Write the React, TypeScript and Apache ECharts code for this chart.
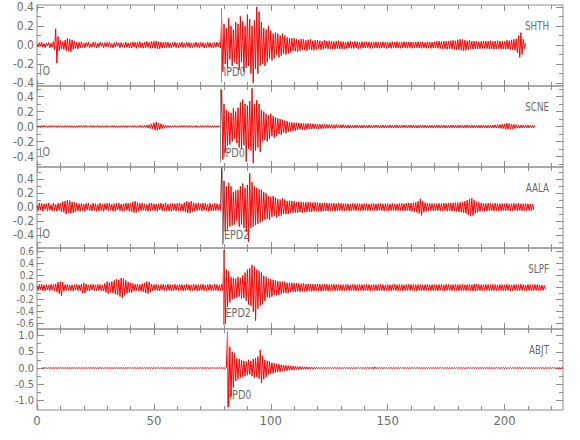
import React, { useEffect, useRef } from "react";
import * as echarts from "echarts";

const FONT = '"Liberation Sans Narrow", "DejaVu Sans Condensed", "Arial Narrow", "Liberation Sans", sans-serif';
const AXIS_COLOR = "#8c8c8c";
const TEXT_COLOR = "#6b6b6b";
const TRACE_COLOR = "#ff0000";

const STATIONS = ["SHTH", "SCNE", "AALA", "SLPF", "ABJT"];
const X_MIN = 0;
const X_MAX = 225;
const X_MAJOR = [0, 50, 100, 150, 200];
const X_MINOR = [10, 20, 30, 40, 60, 70, 80, 90, 110, 120, 130, 140, 160, 170, 180, 190, 210, 220];

const Y_MIN = [-0.43, -0.54, -0.59, -0.69, -1.29];
const Y_MAX = [0.42, 0.54, 0.58, 0.66, 1.2];
const Y_MAJOR = [
  [-0.4, -0.2, 0, 0.2, 0.4],
  [-0.4, -0.2, 0, 0.2, 0.4],
  [-0.4, -0.2, 0, 0.2, 0.4],
  [-0.6, -0.4, -0.2, 0, 0.2, 0.4, 0.6],
  [-1, -0.5, 0, 0.5, 1],
];
const Y_MINOR = [
  [-0.3, -0.1, 0.1, 0.3],
  [-0.5, -0.3, -0.1, 0.1, 0.3, 0.5],
  [-0.5, -0.3, -0.1, 0.1, 0.3, 0.5],
  [-0.5, -0.3, -0.1, 0.1, 0.3, 0.5],
  [-0.75, -0.25, 0.25, 0.75],
];
const Y_LABEL_SIZE = [12, 12, 12, 10, 11];

// phase picks
const PHASE_NAMES = ["IPD0", "IPD0", "EPD2", "EPD2", "IPD0"];
const PHASE_TIMES = [78.9, 78.6, 79.1, 79.8, 81.4];
const PHASE_TOP = [0.39, 0.5, 0.54, 0.62, 1.12];
const PHASE_BOTTOM = [-0.39, -0.48, -0.55, -0.62, -1.22];
const PHASE_LABEL_Y = [-0.28, -0.35, -0.39, -0.41, -0.83];
// origin marks (first three traces)
const ORIGIN_NAME = "O";
const ORIGIN_TIME = 1.5;
const ORIGIN_TOP = [-0.21, -0.28, -0.29];
const ORIGIN_BOTTOM = [-0.32, -0.4, -0.45];
const ORIGIN_LABEL_Y = [-0.27, -0.34, -0.38];

// samples every 0.5 s from each trace's start time (one row = 10 s)
const SAMPLE_STEP = 0.5;
const TRACE_START = [0, 0, 0, 0, 2];

const SHTH = [
 .01,-.02,.025,-.012,.03,-.022,.015,-.028,.02,-.01,.027,-.03,.018,-.025,.035,-.05,.17,-.19,.09,-.06,
 .05,-.04,.035,-.045,.05,-.06,.07,-.065,.06,-.07,.055,-.045,.04,-.035,.03,-.04,.028,-.03,.035,-.025,
 .02,-.03,.025,-.015,.03,-.028,.012,-.022,.03,-.02,.026,-.032,.018,-.024,.03,-.01,.022,-.028,.025,-.02,
 .028,-.018,.03,-.025,.015,-.03,.024,-.02,.03,-.012,.022,-.03,.027,-.022,.018,-.026,.03,-.024,.02,-.03,
 .025,-.03,.032,-.02,.028,-.035,.03,-.025,.035,-.03,.022,-.033,.03,-.028,.036,-.025,.03,-.035,.038,-.03,
 .04,-.035,.042,-.038,.035,-.04,.03,-.032,.028,-.03,.032,-.025,.03,-.028,.022,-.03,.027,-.02,.03,-.026,
 .022,-.03,.025,-.02,.03,-.027,.018,-.025,.03,-.022,.026,-.03,.02,-.028,.024,-.018,.03,-.025,.022,-.03,
 .027,-.02,.025,-.03,.018,-.026,.03,-.022,.025,-.028,.02,-.03,.026,-.024,.03,-.02,.025,-.03,.26,-.28,
 .22,-.2,.18,-.24,.28,-.15,.2,-.22,.16,-.18,.24,-.2,.22,-.26,.3,-.18,.25,-.28,.2,-.24,
 .32,-.22,.27,-.3,.2,-.4,.26,-.25,.4,-.3,.35,-.22,.24,-.2,.18,-.22,.16,-.18,.2,-.14,
 .15,-.16,.12,-.14,.13,-.1,.12,-.13,.1,-.11,.12,-.09,.1,-.1,.08,-.09,.07,-.08,.07,-.06,
 .07,-.065,.06,-.07,.055,-.06,.065,-.05,.06,-.055,.05,-.06,.055,-.045,.06,-.05,.045,-.055,.05,-.045,
 .05,-.04,.045,-.05,.038,-.045,.05,-.035,.042,-.04,.045,-.038,.04,-.045,.035,-.042,.04,-.036,.045,-.04,
 .038,-.042,.035,-.04,.03,-.038,.036,-.032,.04,-.035,.03,-.036,.038,-.03,.034,-.04,.032,-.035,.036,-.03,
 .032,-.03,.035,-.028,.033,-.036,.028,-.034,.03,-.026,.034,-.032,.03,-.035,.028,-.03,.034,-.028,.032,-.035,
 .03,-.032,.028,-.035,.034,-.028,.03,-.033,.036,-.03,.028,-.034,.032,-.03,.035,-.028,.03,-.034,.033,-.03,
 .032,-.035,.03,-.028,.034,-.03,.036,-.032,.03,-.035,.033,-.03,.028,-.034,.035,-.03,.032,-.036,.03,-.033,
 .034,-.03,.038,-.035,.04,-.036,.035,-.04,.042,-.038,.04,-.045,.042,-.04,.045,-.042,.05,-.048,.045,-.05,
 .055,-.05,.06,-.055,.058,-.06,.05,-.055,.045,-.05,.048,-.042,.04,-.045,.042,-.038,.04,-.042,.036,-.04,
 .038,-.035,.04,-.036,.042,-.038,.04,-.042,.045,-.04,.038,-.044,.042,-.04,.045,-.038,.042,-.045,.04,-.042,
 .04,-.045,.05,-.042,.045,-.05,.055,-.05,.06,-.055,.065,-.08,.1,-.13,.13,-.1,.06,-.04,.02,
];

const SCNE = [
 .01,-.012,.008,-.014,.012,-.01,.015,-.009,.011,-.013,.01,-.012,.014,-.008,.012,-.011,.009,-.013,.012,-.01,
 .011,-.013,.01,-.012,.014,-.009,.012,-.011,.013,-.01,.009,-.012,.011,-.014,.01,-.012,.013,-.009,.012,-.011,
 .012,-.01,.014,-.012,.009,-.011,.013,-.01,.012,-.014,.011,-.009,.012,-.013,.01,-.012,.014,-.011,.009,-.012,
 .013,-.011,.01,-.012,.012,-.009,.014,-.012,.011,-.013,.01,-.011,.012,-.01,.013,-.012,.011,-.014,.012,-.01,
 .011,-.012,.013,-.01,.012,-.014,.01,-.011,.014,-.012,.011,-.013,.015,-.014,.018,-.02,.025,-.028,.035,-.03,
 .05,-.045,.06,-.05,.045,-.04,.035,-.03,.025,-.022,.018,-.015,.013,-.012,.011,-.013,.012,-.01,.013,-.011,
 .01,-.012,.013,-.011,.012,-.01,.014,-.012,.011,-.013,.012,-.009,.011,-.012,.013,-.01,.012,-.014,.01,-.012,
 .012,-.011,.013,-.01,.011,-.012,.014,-.01,.012,-.013,.011,-.012,.013,-.011,.01,-.012,.012,-.01,.49,-.44,
 .3,-.35,.22,-.26,.2,-.24,.18,-.2,.24,-.16,.2,-.22,.25,-.28,.32,-.3,.36,-.25,.3,-.47,
 .28,-.3,.34,-.32,.51,-.49,.3,-.32,.35,-.28,.3,-.34,.22,-.2,.2,-.18,.17,-.2,.15,-.16,
 .17,-.13,.14,-.15,.12,-.13,.11,-.1,.1,-.11,.09,-.08,.08,-.09,.07,-.07,.06,-.065,.055,-.06,
 .05,-.055,.05,-.045,.048,-.04,.045,-.042,.04,-.045,.038,-.04,.042,-.036,.038,-.035,.036,-.032,.034,-.03,
 .03,-.033,.028,-.03,.03,-.026,.028,-.025,.027,-.024,.025,-.022,.026,-.024,.022,-.025,.023,-.02,.024,-.022,
 .022,-.02,.024,-.021,.02,-.022,.019,-.023,.021,-.02,.018,-.022,.02,-.019,.021,-.018,.02,-.021,.018,-.02,
 .019,-.02,.017,-.019,.02,-.018,.016,-.02,.019,-.017,.02,-.016,.018,-.02,.017,-.019,.02,-.018,.016,-.019,
 .018,-.017,.02,-.019,.016,-.018,.02,-.017,.019,-.02,.017,-.016,.019,-.018,.02,-.017,.018,-.02,.016,-.018,
 .02,-.018,.017,-.019,.018,-.02,.016,-.018,.02,-.017,.019,-.016,.018,-.02,.017,-.019,.02,-.018,.016,-.02,
 .018,-.016,.02,-.019,.017,-.018,.02,-.016,.019,-.02,.017,-.018,.016,-.019,.02,-.017,.018,-.02,.019,-.016,
 .017,-.02,.018,-.016,.02,-.019,.017,-.018,.02,-.016,.018,-.02,.019,-.017,.016,-.018,.02,-.019,.017,-.02,
 .018,-.017,.02,-.018,.016,-.02,.019,-.017,.018,-.02,.02,-.018,.022,-.02,.024,-.022,.026,-.025,.03,-.028,
 .035,-.04,.045,-.038,.04,-.035,.03,-.032,.028,-.025,.024,-.022,.02,-.022,.018,-.02,.019,-.017,.02,-.018,
 .017,-.019,.018,-.016,.017,-.018,.015,
];

const AALA = [
 .03,-.05,.06,-.04,.055,-.06,.045,-.03,.05,-.058,.06,-.045,.035,-.055,.06,-.05,.04,-.06,.055,-.045,
 .06,-.07,.08,-.075,.09,-.1,.1,-.085,.095,-.09,.075,-.08,.07,-.065,.06,-.055,.05,-.06,.055,-.05,
 .045,-.06,.055,-.04,.06,-.05,.035,-.055,.06,-.045,.05,-.06,.04,-.055,.058,-.05,.045,-.06,.05,-.04,
 .055,-.05,.06,-.045,.04,-.058,.05,-.06,.055,-.04,.06,-.05,.045,-.06,.05,-.055,.06,-.045,.055,-.06,
 .06,-.065,.075,-.08,.085,-.075,.07,-.06,.055,-.05,.06,-.045,.05,-.055,.04,-.06,.055,-.05,.06,-.045,
 .05,-.055,.045,-.06,.05,-.04,.058,-.05,.045,-.055,.06,-.05,.04,-.055,.05,-.06,.055,-.045,.05,-.055,
 .055,-.05,.06,-.055,.045,-.06,.065,-.07,.08,-.085,.075,-.08,.085,-.07,.065,-.06,.055,-.05,.06,-.045,
 .05,-.055,.06,-.045,.055,-.05,.04,-.06,.055,-.05,.045,-.055,.06,-.05,.05,-.045,.04,-.05,.57,-.53,
 .38,-.35,.3,-.32,.35,-.28,.3,-.26,.22,-.25,.24,-.2,.25,-.28,.3,-.25,.34,-.3,.28,-.35,
 .32,-.5,.49,-.3,.36,-.28,.3,-.26,.28,-.24,.26,-.22,.25,-.2,.22,-.18,.2,-.17,.16,-.18,
 .15,-.14,.16,-.13,.14,-.15,.12,-.13,.11,-.12,.13,-.1,.11,-.1,.09,-.1,.09,-.085,.09,-.08,
 .085,-.08,.075,-.085,.08,-.07,.075,-.08,.07,-.075,.072,-.068,.07,-.065,.068,-.07,.065,-.06,.07,-.062,
 .065,-.06,.062,-.065,.058,-.06,.062,-.055,.06,-.058,.055,-.06,.058,-.052,.056,-.06,.05,-.055,.058,-.05,
 .055,-.05,.05,-.055,.052,-.048,.05,-.055,.045,-.052,.055,-.048,.05,-.05,.052,-.045,.05,-.052,.048,-.05,
 .05,-.048,.052,-.05,.045,-.052,.05,-.048,.055,-.05,.048,-.052,.05,-.045,.052,-.05,.048,-.055,.05,-.048,
 .05,-.052,.048,-.05,.055,-.048,.05,-.052,.045,-.05,.052,-.048,.055,-.05,.05,-.055,.058,-.052,.06,-.055,
 .058,-.06,.062,-.065,.07,-.075,.085,-.09,.12,-.12,.09,-.075,.065,-.06,.055,-.052,.055,-.05,.052,-.05,
 .05,-.055,.052,-.05,.055,-.052,.05,-.055,.058,-.05,.055,-.058,.06,-.055,.058,-.06,.062,-.058,.065,-.062,
 .065,-.07,.068,-.072,.075,-.08,.085,-.09,.1,-.11,.12,-.13,.13,-.12,.1,-.09,.08,-.075,.07,-.065,
 .06,-.058,.055,-.06,.052,-.055,.058,-.05,.055,-.052,.05,-.055,.058,-.05,.055,-.052,.05,-.055,.052,-.05,
 .05,-.052,.055,-.05,.048,-.055,.05,-.052,.055,-.048,.05,-.055,.052,-.05,.048,-.052,.05,-.055,.052,-.048,
 .05,-.048,.045,-.05,.045,-.04,
];

const SLPF = [
 .03,-.045,.05,-.04,.055,-.05,.045,-.055,.05,-.04,.045,-.05,.055,-.045,.05,-.055,.06,-.07,.09,-.1,
 .1,-.14,.09,-.06,.05,-.045,.055,-.05,.04,-.05,.045,-.055,.05,-.04,.055,-.05,.045,-.05,.06,-.09,
 .08,-.09,.06,-.05,.045,-.055,.05,-.04,.055,-.05,.045,-.05,.055,-.045,.05,-.055,.045,-.06,.07,-.08,
 .1,-.1,.09,-.08,.1,-.09,.12,-.11,.14,-.12,.13,-.15,.16,-.17,.15,-.13,.12,-.1,.09,-.08,
 .08,-.085,.07,-.06,.055,-.05,.06,-.055,.05,-.06,.065,-.07,.08,-.09,.1,-.1,.09,-.075,.06,-.055,
 .05,-.045,.055,-.05,.045,-.055,.05,-.04,.055,-.05,.045,-.05,.055,-.045,.05,-.055,.045,-.05,.055,-.045,
 .045,-.05,.055,-.045,.05,-.055,.045,-.05,.055,-.04,.05,-.055,.045,-.05,.055,-.045,.05,-.055,.045,-.05,
 .05,-.045,.055,-.05,.045,-.055,.05,-.045,.055,-.05,.045,-.05,.055,-.045,.05,-.055,.045,-.05,.06,-.05,
 .62,-.61,.3,-.32,.28,-.25,.18,-.2,.16,-.18,.15,-.17,.18,-.15,.16,-.18,.2,-.17,.25,-.22,
 .3,-.28,.32,-.3,.38,-.4,.35,-.55,.3,-.35,.28,-.3,.25,-.28,.2,-.22,.18,-.16,.15,-.17,
 .14,-.15,.13,-.12,.12,-.13,.11,-.12,.1,-.11,.1,-.09,.1,-.09,.08,-.09,.08,-.075,.08,-.07,
 .075,-.07,.075,-.065,.07,-.07,.065,-.06,.07,-.065,.06,-.065,.062,-.058,.06,-.062,.055,-.06,.058,-.055,
 .06,-.055,.058,-.06,.052,-.055,.058,-.05,.055,-.058,.05,-.055,.052,-.05,.055,-.052,.05,-.055,.052,-.05,
 .05,-.052,.048,-.05,.055,-.048,.05,-.052,.045,-.05,.052,-.048,.05,-.055,.048,-.05,.052,-.045,.05,-.052,
 .048,-.05,.052,-.048,.05,-.055,.045,-.05,.052,-.048,.05,-.052,.048,-.05,.055,-.048,.05,-.052,.045,-.05,
 .052,-.05,.048,-.052,.05,-.045,.055,-.05,.048,-.052,.05,-.048,.052,-.05,.045,-.052,.05,-.048,.055,-.05,
 .05,-.048,.052,-.05,.048,-.055,.05,-.045,.052,-.05,.048,-.052,.05,-.048,.055,-.05,.045,-.052,.05,-.048,
 .052,-.05,.048,-.052,.05,-.045,.052,-.05,.048,-.055,.05,-.048,.052,-.05,.045,-.052,.05,-.048,.052,-.05,
 .048,-.052,.05,-.048,.055,-.05,.045,-.052,.05,-.048,.052,-.05,.048,-.055,.06,-.058,.055,-.05,.052,-.048,
 .05,-.052,.048,-.05,.052,-.045,.05,-.052,.048,-.05,.055,-.048,.05,-.052,.045,-.05,.052,-.048,.05,-.052,
 .048,-.05,.052,-.048,.05,-.055,.045,-.05,.052,-.048,.05,-.052,.048,-.05,.055,-.048,.05,-.052,.045,-.05,
 .052,-.048,.05,-.052,.048,-.05,.052,-.045,.05,-.048,.045,-.05,.042,-.045,.035,-.03,
];

const ABJT = [
 .008,-.01,.012,-.009,.011,-.012,.01,-.008,.012,-.011,.009,-.012,.01,-.011,.013,-.009,.011,-.01,.012,-.013,
 .01,-.009,.011,-.012,.01,-.011,.009,-.01,.012,-.011,.01,-.012,.011,-.009,.01,-.012,.011,-.01,.013,-.011,
 .01,-.012,.011,-.01,.012,-.011,.009,-.012,.01,-.011,.012,-.009,.011,-.012,.01,-.011,.012,-.01,.011,-.012,
 .011,-.01,.012,-.011,.009,-.012,.01,-.011,.013,-.01,.011,-.012,.01,-.009,.012,-.011,.01,-.012,.011,-.01,
 .012,-.011,.01,-.012,.011,-.01,.012,-.011,.01,-.012,.011,-.01,.012,-.011,.016,-.02,.022,-.018,.013,-.011,
 .01,-.012,.011,-.009,.012,-.011,.01,-.012,.011,-.01,.012,-.011,.009,-.012,.01,-.011,.012,-.01,.011,-.012,
 .011,-.01,.012,-.011,.01,-.012,.009,-.011,.012,-.01,.011,-.012,.01,-.011,.012,-.009,.011,-.012,.01,-.011,
 .012,-.01,.011,-.012,.01,-.011,.012,-.009,.011,-.012,.01,-.011,.012,-.01,.011,-.012,.01,-.015,.012,1.12,
 -1.19,.65,-.88,.5,-.6,.45,-.4,.3,-.35,.28,-.3,.25,-.28,.22,-.25,.2,-.22,.25,-.2,.22,
 -.25,.28,-.3,.3,-.28,.35,-.32,.56,-.46,.38,-.35,.25,-.28,.22,-.2,.2,-.18,.16,-.17,.15,
 -.14,.13,-.12,.12,-.11,.1,-.1,.09,-.09,.08,-.08,.075,-.07,.07,-.065,.06,-.06,.055,-.05,.048,
 -.045,.042,-.045,.04,-.038,.036,-.035,.032,-.03,.03,-.028,.026,-.027,.024,-.025,.022,-.023,.02,-.021,.019,
 -.02,.018,-.017,.018,-.016,.017,-.018,.016,-.017,.015,-.016,.017,-.015,.016,-.017,.015,-.016,.014,-.016,.015,
 -.014,.016,-.015,.014,-.016,.015,-.014,.016,-.015,.014,-.016,.015,-.014,.016,-.015,.014,-.016,.015,-.014,.016,
 -.015,.017,-.02,.03,-.04,.035,-.02,.016,-.015,.014,-.016,.015,-.014,.016,-.015,.014,-.016,.015,-.014,.016,
 -.015,.014,-.016,.015,-.014,.016,-.015,.014,-.016,.015,-.014,.016,-.015,.014,-.016,.015,-.014,.016,-.015,.014,
 -.016,.015,-.014,.016,-.015,.014,-.016,.015,-.014,.016,-.015,.014,-.016,.015,-.014,.016,-.015,.014,-.016,.015,
 -.014,.016,-.015,.014,-.016,.015,-.014,.016,-.015,.014,-.016,.015,-.014,.016,-.015,.014,-.016,.015,-.014,.016,
 -.015,.014,-.016,.015,-.014,.016,-.015,.014,-.016,.015,-.014,.016,-.015,.014,-.016,.015,-.014,.016,-.015,.014,
 -.016,.015,-.014,.016,-.015,.014,-.016,.015,-.014,.016,-.015,.014,-.016,.017,-.018,.02,-.019,.018,-.02,.017,
 -.016,.018,-.017,.016,-.015,.017,-.016,.015,-.014,.016,-.015,.014,-.016,.015,-.014,.016,-.015,.014,-.016,.015,
 -.014,.016,-.015,.014,-.016,.015,-.014,.016,-.015,.014,-.016,.015,-.014,.016,-.015,.014,-.016,.015,-.014,.016,
 -.015,.014,-.016,.015,-.014,.016,-.015,
];

const TRACES = [SHTH, SCNE, AALA, SLPF, ABJT];

const GRID_TOPS = [5, 86, 167, 248, 329];
const GRID_HEIGHT = 81;
const GRID_LEFT = 37;
const GRID_WIDTH = 526;

function buildTrace(t0: number, values: number[]) {
  return values.map((v, i) => [t0 + i * SAMPLE_STEP, v]);
}

function xAxisDef(i: number, position: string, ticks: number[], len: number, labels: boolean) {
  return {
    type: "value",
    gridIndex: i,
    min: X_MIN,
    max: X_MAX,
    position,
    axisLine: { show: false, onZero: false },
    axisTick: { show: true, inside: true, length: len, customValues: ticks, lineStyle: { color: AXIS_COLOR, width: 1 } },
    axisLabel: {
      show: labels,
      customValues: ticks,
      showMinLabel: true,
      showMaxLabel: true,
      color: TEXT_COLOR,
      fontSize: 13,
      fontFamily: FONT,
      margin: 4,
      formatter: (v: number) => String(v),
    },
    splitLine: { show: false },
  };
}

function yAxisDef(i: number, position: string, ticks: number[], len: number, labels: boolean) {
  return {
    type: "value",
    gridIndex: i,
    min: Y_MIN[i],
    max: Y_MAX[i],
    position,
    axisLine: { show: false, onZero: false },
    axisTick: { show: true, inside: true, length: len, customValues: ticks, lineStyle: { color: AXIS_COLOR, width: 1 } },
    axisLabel: {
      show: labels,
      customValues: ticks,
      showMinLabel: true,
      showMaxLabel: true,
      hideOverlap: false,
      color: TEXT_COLOR,
      fontSize: Y_LABEL_SIZE[i],
      lineHeight: Y_LABEL_SIZE[i],
      fontFamily: FONT,
      margin: 3,
      formatter: (v: number) => v.toFixed(1),
    },
    splitLine: { show: false },
  };
}

export default function App() {
  const ref = useRef<HTMLDivElement>(null);
  useEffect(() => {
    if (!ref.current) return;
    const chart = echarts.init(ref.current, null, { renderer: "svg" });
    const grids = GRID_TOPS.map((top) => ({
      left: GRID_LEFT,
      width: GRID_WIDTH,
      top,
      height: GRID_HEIGHT,
      show: true,
      borderColor: AXIS_COLOR,
      borderWidth: 1,
      backgroundColor: "transparent",
      containLabel: false,
      outerBoundsMode: "none",
    }));
    const xAxes: any[] = [];
    const yAxes: any[] = [];
    const series: any[] = [];
    for (let i = 0; i < 5; i++) {
      xAxes.push(xAxisDef(i, "bottom", X_MAJOR, 6, i === 4));
      xAxes.push(xAxisDef(i, "bottom", X_MINOR, 4, false));
      xAxes.push(xAxisDef(i, "top", X_MAJOR, 6, false));
      xAxes.push(xAxisDef(i, "top", X_MINOR, 4, false));
      yAxes.push(yAxisDef(i, "left", Y_MAJOR[i], 7, true));
      yAxes.push(yAxisDef(i, "left", Y_MINOR[i], 4, false));
      yAxes.push(yAxisDef(i, "right", Y_MAJOR[i], 7, false));
      yAxes.push(yAxisDef(i, "right", Y_MINOR[i], 4, false));
      const lines: any[] = [
        [
          { coord: [PHASE_TIMES[i], PHASE_TOP[i]] },
          { coord: [PHASE_TIMES[i], PHASE_BOTTOM[i]] },
        ],
      ];
      if (i < ORIGIN_TOP.length) {
        lines.push([
          { coord: [ORIGIN_TIME, ORIGIN_TOP[i]] },
          { coord: [ORIGIN_TIME, ORIGIN_BOTTOM[i]] },
        ]);
      }
      series.push({
        type: "line",
        name: STATIONS[i],
        xAxisIndex: i * 4,
        yAxisIndex: i * 4,
        data: buildTrace(TRACE_START[i], TRACES[i]),
        showSymbol: false,
        symbol: "none",
        silent: true,
        clip: true,
        lineStyle: { color: TRACE_COLOR, width: 1 },
        markLine: {
          silent: true,
          symbol: ["none", "none"],
          label: { show: false },
          lineStyle: { color: "#909090", width: 1, type: "solid" },
          data: lines,
        },
      });
    }
    chart.setOption({
      animation: false,
      grid: grids,
      xAxis: xAxes,
      yAxis: yAxes,
      series,
    });

    const graphics: any[] = [];
    for (let i = 0; i < 5; i++) {
      graphics.push({
        type: "text",
        x: GRID_LEFT + GRID_WIDTH - 14,
        y: GRID_TOPS[i] + 20,
        scaleX: 0.75,
        style: {
          text: STATIONS[i],
          fill: TEXT_COLOR,
          fontSize: 13,
          fontFamily: FONT,
          align: "right",
          verticalAlign: "middle",
        },
      });
      const p = chart.convertToPixel({ seriesIndex: i }, [PHASE_TIMES[i], PHASE_LABEL_Y[i]]) as number[];
      graphics.push({
        type: "text",
        x: p[0] + 2,
        y: p[1],
        scaleX: 0.82,
        style: {
          text: PHASE_NAMES[i],
          fill: TEXT_COLOR,
          fontSize: 13,
          fontFamily: FONT,
          align: "left",
          verticalAlign: "middle",
        },
      });
      if (i < ORIGIN_LABEL_Y.length) {
        const q = chart.convertToPixel({ seriesIndex: i }, [ORIGIN_TIME, ORIGIN_LABEL_Y[i]]) as number[];
        graphics.push({
          type: "text",
          x: q[0] + 2,
          y: q[1],
          scaleX: 0.82,
          style: {
            text: ORIGIN_NAME,
            fill: TEXT_COLOR,
            fontSize: 13,
            fontFamily: FONT,
            align: "left",
            verticalAlign: "middle",
          },
        });
      }
    }
    chart.setOption({ graphic: graphics });
    return () => chart.dispose();
  }, []);
  return <div ref={ref} style={{ position: "absolute", left: 0, top: 0, width: 580, height: 440 }} />;
}
